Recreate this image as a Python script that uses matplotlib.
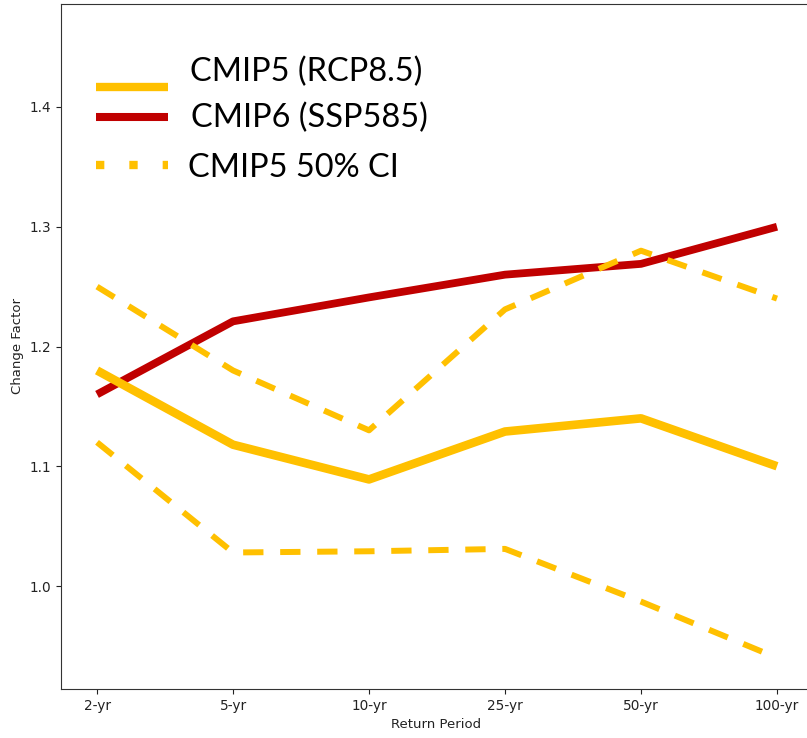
import matplotlib
matplotlib.use('Agg')
import matplotlib.pyplot as plt
from matplotlib.lines import Line2D

# Return periods and change factors
periods = ['2-yr', '5-yr', '10-yr', '25-yr', '50-yr', '100-yr']
cmip5_median = [1.18, 1.118, 1.089, 1.129, 1.14, 1.10]
cmip6_median = [1.16, 1.221, 1.241, 1.26, 1.269, 1.30]
cmip5_ci_upper = [1.25, 1.18, 1.13, 1.231, 1.28, 1.24]
cmip5_ci_lower = [1.12, 1.028, 1.029, 1.031, 0.987, 0.94]

gold = '#FFC000'
dark_red = '#C00000'

W, H = 807, 738
fig = plt.figure(figsize=(W / 100, H / 100), dpi=100)
# axes run a little past the right edge of the figure
ax = fig.add_axes([61 / W, 49 / H, 750 / W, 685 / H])

x = list(range(len(periods)))
ax.plot(x, cmip6_median, color=dark_red, lw=5.6, solid_capstyle='butt')
ax.plot(x, cmip5_median, color=gold, lw=6.2, solid_capstyle='butt')
ci_style = dict(color=gold, lw=4.3, linestyle=(0, (3.4, 2.8)), dash_capstyle='butt')
ax.plot(x, cmip5_ci_upper, **ci_style)
ax.plot(x, cmip5_ci_lower, **ci_style)

ax.set_xlim(-0.265, 5.25)
ax.set_ylim(0.914, 1.486)
ax.set_xticks(x)
ax.set_xticklabels(periods)
ax.set_yticks([1.0, 1.1, 1.2, 1.3, 1.4])
ax.tick_params(labelsize=9.8, colors='#222222')
ax.set_xlabel('Return Period', fontsize=9.5, color='#222222', labelpad=4)
ax.set_ylabel('Change Factor', fontsize=9.5, color='#222222', labelpad=4)
for s in ax.spines.values():
    s.set_color('#333333')


def to_axes(px, py):
    # pixel position (from top-left of figure) -> axes fraction
    return (px - 61) / 750, (689 - py) / 685


# hand-placed legend
legend_items = [
    ('CMIP5 (RCP8.5)', dict(color=gold, lw=6, solid_capstyle='butt'), 87, 190, 72),
    ('CMIP6 (SSP585)', dict(color=dark_red, lw=5.8, solid_capstyle='butt'), 117, 191, 118),
    ('CMIP5 50% CI', dict(color=gold, lw=6, linestyle=(0, (1, 3)), dash_capstyle='butt'), 165, 188, 168),
]
for label, style, key_y, text_x, text_y in legend_items:
    x0, y0 = to_axes(96, key_y)
    x1, _ = to_axes(168, key_y)
    ax.add_line(Line2D([x0, x1], [y0, y0], transform=ax.transAxes, **style))
    tx, ty = to_axes(text_x, text_y)
    ax.text(tx, ty, label, transform=ax.transAxes, fontsize=23.4,
            family='Lato', color='black', ha='left', va='center')

fig.savefig('out.png', dpi=100)
